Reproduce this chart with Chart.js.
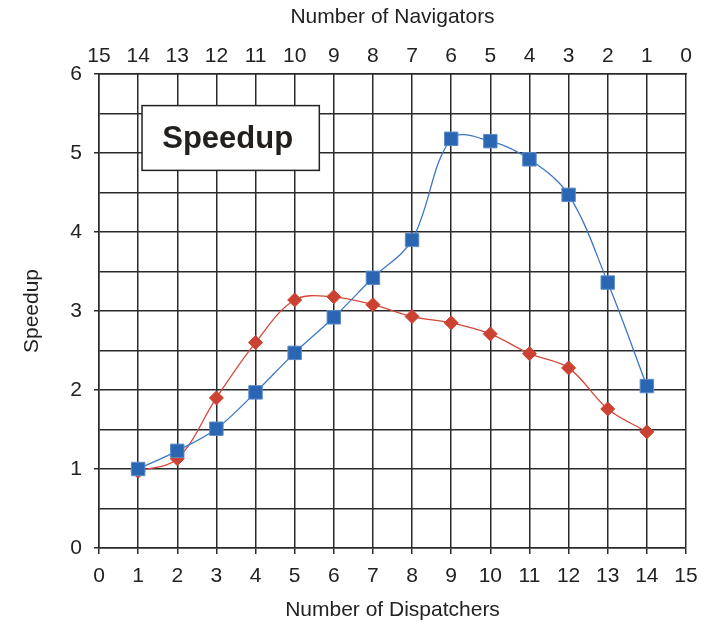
<!DOCTYPE html>
<html>
<head>
<meta charset="utf-8">
<script src="https://cdn.jsdelivr.net/npm/chart.js@4/dist/chart.umd.min.js"></script>
<style>
  html, body { margin: 0; padding: 0; background: #fff; }
  canvas { display: block; }
</style>
</head>
<body>
<canvas id="speedup" width="713" height="626"></canvas>
<script>
const dispatchers = [1, 2, 3, 4, 5, 6, 7, 8, 9, 10, 11, 12, 13, 14];
const blueSpeedup = [1.00, 1.23, 1.51, 1.97, 2.47, 2.92, 3.42, 3.90, 5.18, 5.15, 4.92, 4.47, 3.36, 2.05];
const redSpeedup = [0.97, 1.13, 1.90, 2.60, 3.14, 3.18, 3.08, 2.93, 2.85, 2.71, 2.46, 2.28, 1.76, 1.47];
const boxLabel = "Speedup";
const boxArea = [1.1, 5.63, 5.6, 4.78]; // x1, x2, y1, y2 in data units

const font = "'Liberation Sans', Arial, sans-serif";
const gridColor = "#2a2a2a";
const textColor = "#222";

function points(ys) {
    return dispatchers.map((x, i) => ({x: x, y: ys[i]}));
}

const labelBox = {
    id: "labelBox",
    beforeDatasetsDraw(chart) {
        const {ctx, scales} = chart;
        const x1 = scales.x.getPixelForValue(boxArea[0]);
        const x2 = scales.x.getPixelForValue(boxArea[1]);
        const y1 = scales.y.getPixelForValue(boxArea[2]);
        const y2 = scales.y.getPixelForValue(boxArea[3]);
        ctx.save();
        ctx.fillStyle = "#fff";
        ctx.fillRect(x1, y1, x2 - x1, y2 - y1);
        ctx.strokeStyle = "#222";
        ctx.lineWidth = 1.5;
        ctx.strokeRect(x1, y1, x2 - x1, y2 - y1);
        ctx.fillStyle = "#231f1c";
        ctx.font = "bold 31px " + font;
        ctx.textAlign = "center";
        ctx.textBaseline = "middle";
        ctx.fillText(boxLabel, (x1 + x2) / 2 - 3, (y1 + y2) / 2 + 1);
        ctx.restore();
    }
};

new Chart("speedup", {
    type: "line",
    data: {
        datasets: [
            {
                label: "Blue",
                data: points(blueSpeedup),
                borderColor: "#3c78c3",
                backgroundColor: "#2a66b2",
                pointBorderColor: "#5a8ccb",
                borderWidth: 1.3,
                pointStyle: "rect",
                pointRadius: 9.5,
                pointBorderWidth: 1,
                tension: 0.35,
                xAxisID: "x"
            },
            {
                label: "Red",
                data: points(redSpeedup),
                borderColor: "#d5473a",
                backgroundColor: "#cc4232",
                pointBorderColor: "#cc4232",
                borderWidth: 1.3,
                pointStyle: "rectRot",
                pointRadius: 7,
                pointBorderWidth: 1,
                tension: 0.35,
                xAxisID: "x"
            }
        ]
    },
    options: {
        responsive: false,
        animation: false,
        layout: { padding: { left: 0, right: 27, top: 0, bottom: 0 } },
        plugins: {
            legend: { display: false },
            tooltip: { enabled: false }
        },
        scales: {
            x: {
                type: "linear",
                position: "bottom",
                min: 0,
                max: 15,
                ticks: { stepSize: 1, color: textColor, font: { family: font, size: 21 }, padding: 10, maxRotation: 0 },
                grid: { color: gridColor, lineWidth: 1.5, tickLength: 6, tickColor: gridColor },
                border: { color: gridColor, width: 1.5 },
                title: { display: true, text: "Number of Dispatchers", color: textColor, font: { family: font, size: 21 }, padding: { top: 0, bottom: 3 } },
                afterFit: (s) => { s.height = 78; }
            },
            x2: {
                type: "linear",
                position: "top",
                min: 0,
                max: 15,
                reverse: true,
                ticks: { stepSize: 1, color: textColor, font: { family: font, size: 21 }, padding: 5, maxRotation: 0 },
                grid: { display: false, drawTicks: false },
                border: { color: gridColor, width: 1.5 },
                title: { display: true, text: "Number of Navigators", color: textColor, font: { family: font, size: 21 }, padding: { top: 5, bottom: 8 } },
                afterFit: (s) => { s.height = 74; }
            },
            y: {
                min: 0,
                max: 6,
                ticks: {
                    stepSize: 0.5,
                    color: textColor,
                    font: { family: font, size: 21 },
                    padding: 12,
                    callback: (v) => Number.isInteger(v) ? v : ""
                },
                grid: {
                    color: gridColor,
                    lineWidth: 1.5,
                    tickLength: 5,
                    tickColor: (ctx) => ctx.tick && Number.isInteger(ctx.tick.value) ? gridColor : "rgba(0,0,0,0)"
                },
                border: { color: gridColor, width: 1.5 },
                title: { display: true, text: "Speedup", color: textColor, font: { family: font, size: 21 }, padding: { top: 20, bottom: 0 } },
                afterFit: (s) => { s.width = 99; }
            }
        }
    },
    plugins: [labelBox]
});
</script>
</body>
</html>
